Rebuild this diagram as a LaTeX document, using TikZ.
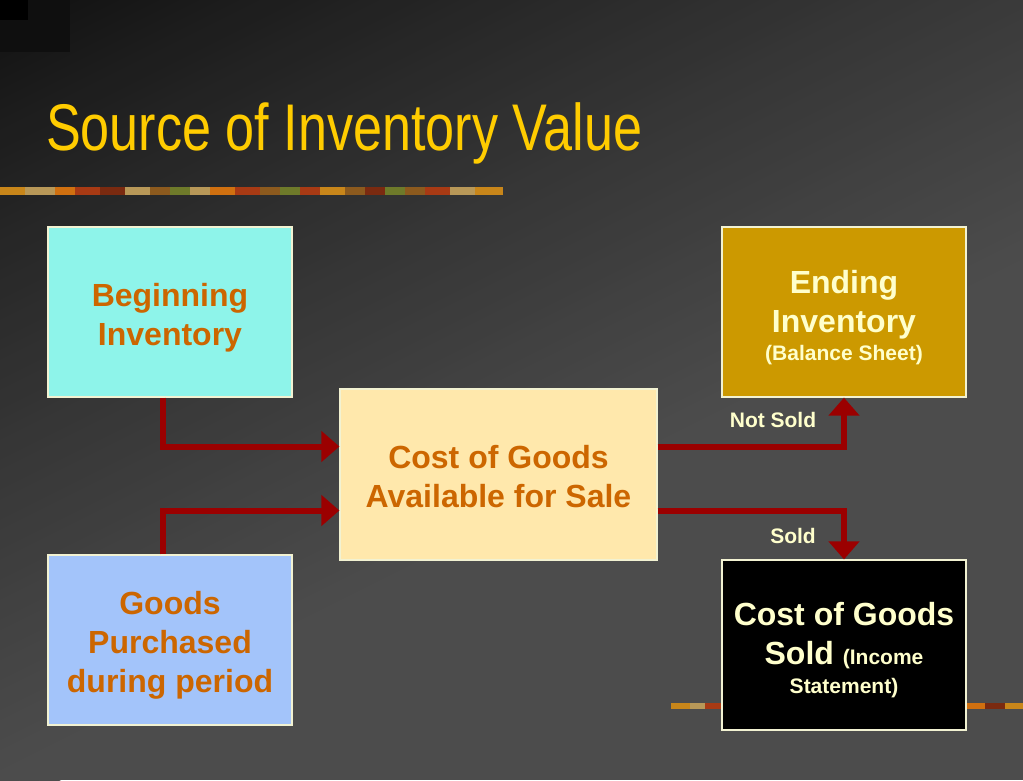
\documentclass[tikz,border=0pt]{standalone}
\usepackage{fontspec}
\setmainfont{Liberation Sans}
\newfontfamily\titlefont[FakeStretch=0.79]{Liberation Sans}
\usetikzlibrary{arrows.meta}
\definecolor{bgDark}{HTML}{101010}
\definecolor{bgLight}{HTML}{4C4C4C}
\definecolor{titleYellow}{HTML}{FFCC00}
\definecolor{txtOrange}{HTML}{CC6600}
\definecolor{cream}{HTML}{FFFFCC}
\definecolor{aquaBox}{HTML}{8EF4EA}
\definecolor{blueBox}{HTML}{A3C4FA}
\definecolor{yellowBox}{HTML}{FFE8AC}
\definecolor{goldBox}{HTML}{CC9900}
\definecolor{arrRed}{HTML}{9B0000}
\definecolor{boxBorder}{HTML}{F2F2D2}
\definecolor{dA}{HTML}{C8861A}
\definecolor{dB}{HTML}{8C5A1E}
\definecolor{dC}{HTML}{A83A14}
\definecolor{dD}{HTML}{6E7A2A}
\definecolor{dE}{HTML}{B89858}
\definecolor{dF}{HTML}{D07010}
\definecolor{dG}{HTML}{7A2A10}
\newcommand\bxfont{\fontsize{32}{39}\selectfont\bfseries}
\newcommand\smfont{\fontsize{21}{25}\selectfont\bfseries}
\newcommand\topstrut[1]{\rule{0pt}{#1}}
\tikzset{
  box/.style={draw=boxBorder, line width=1.2pt, minimum width=244pt, minimum height=170pt,
    inner sep=0pt, align=center, font=\bxfont},
  arr/.style={draw=arrRed, line width=6pt, -{Triangle[width=30pt,length=18pt]}},
  lbl/.style={text=cream, font=\smfont, inner sep=0pt},
}
\begin{document}
\begin{tikzpicture}[x=1pt,y=-1pt]
\useasboundingbox (0,0) rectangle (1023,780);
% background gradient
\begin{scope}
\clip (0,0) rectangle (1023,780);
\fill[bgLight] (0,0) rectangle (1023,780);
\foreach \t in {0,20,...,1600} {
  \pgfmathsetmacro{\p}{100*pow(min(1,(\t+10)/1550),0.85)}
  \fill[bgLight!\p!bgDark] (\t+200,-100) -- (\t+221,-100) -- (\t-1779,900) -- (\t-1800,900) -- cycle;
}
\fill[black!94!white] (0,0) rectangle (70,52);
\fill[black] (0,0) rectangle (28,20);
\end{scope}
% decorative bars
\foreach \a/\b/\c in {0/25/dA,25/55/dE,55/75/dF,75/100/dC,100/125/dG,125/150/dE,150/170/dB,170/190/dD,190/210/dE,210/235/dF,235/260/dC,260/280/dB,280/300/dD,300/320/dC,320/345/dA,345/365/dB,365/385/dG,385/405/dD,405/425/dB,425/450/dC,450/475/dE,475/503/dA}
  \fill[\c] (\a,187) rectangle (\b,195);
\foreach \a/\b/\c in {671/690/dA,690/705/dE,705/725/dC,960/985/dF,985/1005/dG,1005/1023/dA}
  \fill[\c] (\a,703) rectangle (\b,709);
% title
\node[anchor=base west, inner sep=0pt, text=titleYellow, font=\titlefont\fontsize{66}{70}\selectfont] (title) at (46,150) {Source of Inventory Value};
% boxes
\node[box, fill=aquaBox, text=txtOrange] (bi) at (170,312) {\topstrut{34pt}Beginning\\Inventory};
\node[box, fill=blueBox, text=txtOrange] (gp) at (170,640) {\topstrut{33pt}Goods\\Purchased\\during period};
\node[box, fill=yellowBox, text=txtOrange, minimum width=317pt, minimum height=171pt] (cga) at (498.5,474.5) {\topstrut{28pt}Cost of Goods\\Available for Sale};
\node[box, fill=goldBox, text=cream] (ei) at (844,312) {\topstrut{34pt}Ending\\Inventory\\[-11pt]{\smfont (Balance Sheet)}};
\node[box, fill=black, text=cream] (cogs) at (844,645) {\topstrut{34pt}Cost of Goods\\Sold {\smfont (Income}\\[-10pt]{\smfont Statement)}};
% arrows
\draw[arr] ([xshift=-7pt]bi.south) |- ([yshift=28pt]cga.west);
\draw[arr] ([xshift=-7pt]gp.north) |- ([yshift=-36pt]cga.west);
\draw[arr] ([yshift=28pt]cga.east) -| (ei.south);
\draw[arr] ([yshift=-36pt]cga.east) -| (cogs.north);
% labels
\node[lbl] (ns) at (773,420) {Not Sold};
\node[lbl] (sd) at (793,536) {Sold};
\end{tikzpicture}
\end{document}
